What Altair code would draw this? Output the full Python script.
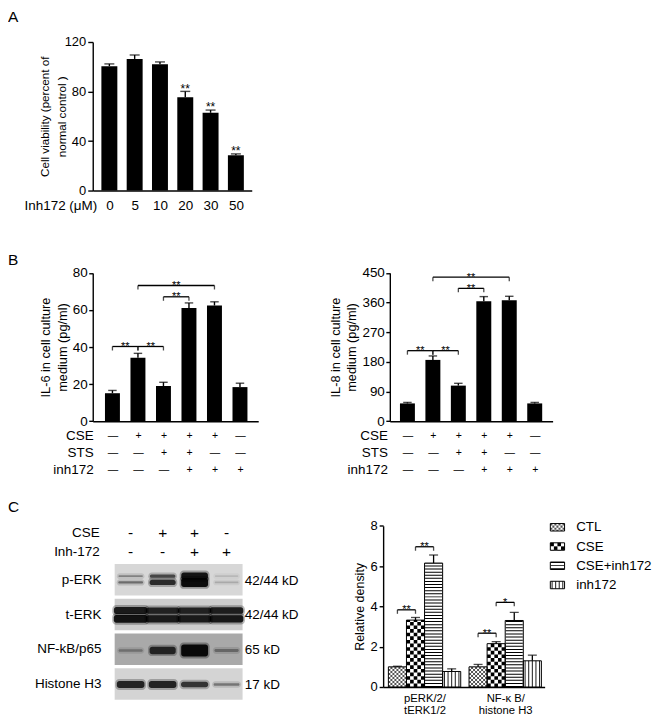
import json
import altair as alt
import pandas as pd

FONT = "Liberation Sans"

# ---------------- data ----------------
A_doses = ["0", "5", "10", "20", "30", "50"]
A_vals = [100.5, 106.3, 102.0, 75.3, 62.8, 28.5]
A_errs = [1.8, 3.2, 1.9, 4.8, 2.2, 1.1]
A_sig = ["", "", "", "**", "**", "**"]

B_rows = ["CSE", "STS", "inh172"]
B_cse = ["—", "+", "+", "+", "+", "—"]
B_sts = ["—", "—", "+", "+", "—", "—"]
B_inh = ["—", "—", "—", "+", "+", "+"]
IL6_vals = [15.1, 34.2, 19.0, 61.0, 62.4, 18.4]
IL6_errs = [1.5, 2.4, 2.0, 2.8, 2.0, 2.1]
IL8_vals = [54, 186, 108, 364, 367, 54]
IL8_errs = [3, 12, 7, 14, 12, 3]
B_br_from = [0, 1, 2, 1]
B_br_to = [1, 2, 3, 4]
B_br_lab = ["**", "**", "**", "**"]
IL6_br_h = [40.3, 40.3, 67.1, 73.2]
IL8_br_h = [214, 214, 403, 437]

C_conds = ["CTL", "CSE", "CSE+inh172", "inh172"]
C_group_lines = [["pERK/2/", "tERK1/2"], ["NF-κ B/", "histone H3"]]
C_perk_vals = [1.0, 3.32, 6.15, 0.77]
C_perk_errs = [0.03, 0.13, 0.4, 0.13]
C_nfkb_vals = [1.0, 2.15, 3.3, 1.3]
C_nfkb_errs = [0.12, 0.1, 0.4, 0.28]
C_br_group = [0, 0, 1, 1]
C_br_from = [0, 1, 0, 1]
C_br_to = [1, 2, 1, 2]
C_br_h = [3.83, 6.96, 2.67, 4.2]
C_br_lab = ["**", "**", "**", "*"]

blot_cse = ["-", "+", "+", "-"]
blot_inh = ["-", "-", "+", "+"]
blot_panels = ["p-ERK", "t-ERK", "NF-kB/p65", "Histone  H3"]
blot_kd = ["42/44 kD", "42/44 kD", "65 kD", "17 kD"]
perk_44 = [0.35, 0.65, 0.95, 0.12]
perk_42 = [0.45, 0.8, 1.0, 0.18]
terk_44 = [0.9, 0.85, 0.85, 0.88]
terk_42 = [0.95, 0.9, 0.9, 0.92]
nfkb_p65 = [0.3, 0.8, 1.0, 0.35]
histone_h3 = [0.85, 0.85, 0.75, 0.4]

# ---------------- layout / style ----------------
X0 = 93.0          # page x of first-column plot left edge
A_TOP = 40.3       # page y of panel A plot top
COL1_W = 297.7     # first column width (col 2 starts at 390.7)


def jarr(x):
    return json.dumps(x, ensure_ascii=False)


def T(**kw):
    d = dict(font=FONT, color="black")
    d.update(kw)
    return d


def X(f, s, ax=None):
    return alt.X(f"{f}:Q", scale=s, axis=ax)


def Y(f, s, ax=None):
    return alt.Y(f"{f}:Q", scale=s, axis=ax)


def letter(ch, x, y):
    return alt.Chart(pd.DataFrame({"t": [ch]})).mark_text(
        **T(fontSize=15.5, align="left", baseline="top")
    ).encode(text="t:N", x=alt.value(x), y=alt.value(y))


# ---------------- panel A ----------------
A_W, A_H = 159.5, 149.0
dfA = pd.DataFrame({"i": list(range(len(A_doses))), "v": A_vals, "e": A_errs, "sig": A_sig})
dfA["top"] = dfA["v"] + dfA["e"]
xA = alt.Scale(domain=[-0.46, 5.43], range=[0, A_W], nice=False, zero=False)
yA = alt.Scale(domain=[0, 120], range=[A_H, 0], nice=False)
axA_x = alt.Axis(values=list(range(6)), labelExpr=jarr(A_doses) + "[datum.value]",
                 ticks=False, tickSize=0, labelPadding=8, labelFontSize=13.5, labelAngle=0,
                 labelFlush=False, title="Inh172 (μM)", titleX=4, titleY=8, titleAlign="right",
                 titleBaseline="top", titleFontSize=13.5, titleAngle=0)
axA_y = alt.Axis(values=[0, 40, 80, 120], tickSize=5, labelPadding=2, labelFontSize=13,
                 title=["Cell viability (percent of", "normal control )"], titleX=-48,
                 titleY=A_H / 2, titleAngle=270, titleAlign="center", titleBaseline="middle",
                 titleLineHeight=17, titleFontSize=11.7)
chartA = alt.layer(
    alt.Chart(dfA).mark_bar(color="black", size=16).encode(x=X("i", xA, axA_x), y=Y("v", yA, axA_y)),
    alt.Chart(dfA).mark_rule(color="black", strokeWidth=1.4).encode(
        x=X("i", xA, axA_x), y=Y("v", yA, axA_y), y2="top"),
    alt.Chart(dfA).mark_tick(color="black", orient="horizontal", size=10, thickness=1.4).encode(
        x=X("i", xA, axA_x), y=Y("top", yA, axA_y)),
    alt.Chart(dfA).mark_text(**T(fontSize=12, baseline="alphabetic", dy=1.4)).encode(
        x=X("i", xA, axA_x), y=Y("top", yA, axA_y), text="sig:N"),
    letter("A", 8 - X0, 8 - A_TOP),
).properties(width=A_W, height=A_H)

blank = alt.Chart(pd.DataFrame({"t": [""]})).mark_text().encode(text="t:N").properties(width=10, height=10)

# ---------------- panel B ----------------
B_H = 231.4
B_TOP = 82.6


def make_b(vals, errs, br_h, ymax, yvals, ytitle, plot_w, view_w, xdom, ytitle_x, rowtitle_x, let=None):
    df = pd.DataFrame({"i": list(range(6)), "v": vals})
    df["top"] = [v + e for v, e in zip(vals, errs)]
    br = pd.DataFrame({"a": B_br_from, "b": B_br_to, "h": br_h, "lab": B_br_lab})
    br["mid"] = (br["a"] + br["b"]) / 2
    xs = alt.Scale(domain=xdom, range=[0, plot_w], nice=False, zero=False)
    ys = alt.Scale(domain=[0, ymax], range=[B_H, B_TOP], nice=False)
    keys = ["|".join(t) for t in zip(B_cse, B_sts, B_inh)]
    axx = alt.Axis(values=list(range(6)), labelExpr="split(" + jarr(keys) + "[datum.value], '|')",
                   ticks=False, tickSize=0, labelPadding=9, labelFontSize=10.5, labelLineHeight=17,
                   labelAngle=0, labelFlush=False, labelOverlap=False, title=B_rows,
                   titleX=rowtitle_x, titleY=7.8, titleAlign="right", titleBaseline="top",
                   titleLineHeight=17, titleFontSize=13.5, titleAngle=0)
    axy = alt.Axis(values=yvals, tickSize=4, labelPadding=1.5, labelFontSize=13.5, title=ytitle,
                   titleX=ytitle_x, titleY=(B_H + B_TOP) / 2, titleAngle=270, titleAlign="center",
                   titleBaseline="middle", titleLineHeight=16.5, titleFontSize=12.8)
    layers = [
        alt.Chart(df).mark_bar(color="black", size=15).encode(x=X("i", xs, axx), y=Y("v", ys, axy)),
        alt.Chart(df).mark_rule(color="black", strokeWidth=1.4).encode(
            x=X("i", xs, axx), y=Y("v", ys, axy), y2="top"),
        alt.Chart(df).mark_tick(color="black", orient="horizontal", size=8.5, thickness=1.4).encode(
            x=X("i", xs, axx), y=Y("top", ys, axy)),
        alt.Chart(br).mark_rule(color="black", strokeWidth=1.3).encode(
            x=X("a", xs, axx), x2="b", y=Y("h", ys, axy)),
        alt.Chart(br).mark_tick(color="black", orient="vertical", size=4, thickness=1.3, yOffset=2).encode(
            x=X("a", xs, axx), y=Y("h", ys, axy)),
        alt.Chart(br).mark_tick(color="black", orient="vertical", size=4, thickness=1.3, yOffset=2).encode(
            x=X("b", xs, axx), y=Y("h", ys, axy)),
        alt.Chart(br).mark_text(**T(fontSize=11, baseline="alphabetic", dy=3.6)).encode(
            x=X("mid", xs, axx), y=Y("h", ys, axy), text="lab:N"),
    ]
    if let is not None:
        layers.append(let)
    return alt.layer(*layers).properties(width=view_w, height=B_H)


chartBL = make_b(IL6_vals, IL6_errs, IL6_br_h, 80, [0, 20, 40, 60, 80],
                 ["IL-6 in cell culture", "medium (pg/ml)"], 166.0, COL1_W, [-0.577, 5.52],
                 -47.2, 0.5, letter("B", 8 - X0, 62.3))
chartBR = make_b(IL8_vals, IL8_errs, IL8_br_h, 450, [0, 90, 180, 270, 360, 450],
                 ["IL-8 in cell culture", "medium (pg/ml)"], 163.3, 163.3, [-0.496, 5.507],
                 -54.7, -2.4)

# ---------------- panel C: blot ----------------
BLOT_H = 277.6
PXU = 34.85
BX = alt.Scale(domain=[0, 4], range=[22, 150.3], nice=False, zero=False)
BY = alt.Scale(domain=[0, 4], range=[142.6, 142.6 + 4 * PXU], nice=False, zero=False)
panel_bg = ["#d7d7d7", "#cdcdcd", "#a9a9a9", "#d4d4d4"]
dfP = pd.DataFrame({"name": blot_panels, "kd": blot_kd, "bg": panel_bg})
dfP["y0"] = list(range(4))
dfP["y1"] = dfP["y0"] + 0.91
dfP["yl"] = dfP["y0"] + 0.46
dfP["yk"] = dfP["y0"] + 0.48
dfP["x0"] = 0.0
dfP["x1"] = 4.0

BAND_STYLE = [(perk_44, 0, 0.35, 4.0, 0.36), (perk_42, 0, 0.53, 4.5, 0.36),
              (terk_44, 1, 0.34, 4.5, 0.47), (terk_42, 1, 0.58, 4.5, 0.47),
              (nfkb_p65, 2, 0.49, 6.0, 0.36), (histone_h3, 3, 0.47, 5.0, 0.38)]
brow = []
for ints, pi, yoff, base, hw0 in BAND_STYLE:
    for li, it in enumerate(ints):
        th = base * (0.4 + 1.6 * it ** 3) / PXU
        hw = hw0 + 0.06 * it
        yc = pi + yoff
        brow.append({"x0": li + 0.5 - hw, "x1": li + 0.5 + hw, "y0": yc - th / 2, "y1": yc + th / 2,
                     "hx0": li + 0.5 - hw - 0.05, "hx1": li + 0.5 + hw + 0.05,
                     "hy0": yc - th / 2 - 2.0 / PXU, "hy1": yc + th / 2 + 2.0 / PXU,
                     "op": 0.92 * it, "hop": 0.3 * it})
dfBand = pd.DataFrame(brow)
HDR_ROWS = [-0.88, -0.35]
dfH = pd.DataFrame({"lane": [i + 0.5 for i in range(4)] * 2,
                    "row": [HDR_ROWS[0]] * 4 + [HDR_ROWS[1]] * 4, "s": blot_cse + blot_inh})
dfHL = pd.DataFrame({"t": ["CSE", "Inh-172"], "row": HDR_ROWS})

chartBlot = alt.layer(
    alt.Chart(dfP).mark_rect().encode(x=X("x0", BX), x2="x1", y=Y("y0", BY), y2="y1",
                                      fill=alt.Fill("bg:N", scale=None)),
    alt.Chart(dfBand).mark_rect(color="black", cornerRadius=4).encode(
        x=X("hx0", BX), x2="hx1", y=Y("hy0", BY), y2="hy1", opacity=alt.Opacity("hop:Q", scale=None)),
    alt.Chart(dfBand).mark_rect(color="black", cornerRadius=2.5).encode(
        x=X("x0", BX), x2="x1", y=Y("y0", BY), y2="y1", opacity=alt.Opacity("op:Q", scale=None)),
    alt.Chart(dfP).mark_text(**T(fontSize=13.5, align="right", baseline="middle")).encode(
        x=alt.value(8.7), y=Y("yl", BY), text="name:N"),
    alt.Chart(dfP).mark_text(**T(fontSize=13.5, align="left", baseline="middle")).encode(
        x=alt.value(152.5), y=Y("yk", BY), text="kd:N"),
    alt.Chart(dfH).mark_text(**T(fontSize=15.5, align="center", baseline="middle")).encode(
        x=X("lane", BX), y=Y("row", BY), text="s:N"),
    alt.Chart(dfHL).mark_text(**T(fontSize=13.5, align="right", baseline="middle")).encode(
        x=alt.value(7), y=Y("row", BY), text="t:N"),
    letter("C", 8 - X0, 78.2),
).properties(width=151, height=BLOT_H)

# ---------------- panel C: densitometry ----------------
C_H = 266.0
C_TOP = 104.3
C_GSTEP = 4.46
C_AX_OFF = 6.7
C_RANGE = [-C_AX_OFF, 155.3]
C_DOM = [-0.29, 8.64]
C_BAR_PX = (C_RANGE[1] - C_RANGE[0]) / (C_DOM[1] - C_DOM[0])

rowsC = []
for gi, (vals, errs) in enumerate([(C_perk_vals, C_perk_errs), (C_nfkb_vals, C_nfkb_errs)]):
    for ci, cond in enumerate(C_conds):
        x0 = gi * C_GSTEP + ci
        rowsC.append({"cond": cond, "x0": x0, "x1": x0 + 1, "xc": x0 + 0.5, "y0": 0.0,
                      "y1": vals[ci], "top": vals[ci] + errs[ci]})
dfC = pd.DataFrame(rowsC)
brC = pd.DataFrame({"g": C_br_group, "a": C_br_from, "b": C_br_to, "h": C_br_h, "lab": C_br_lab})
brC["xa"] = brC["g"] * C_GSTEP + brC["a"] + 0.5
brC["xb"] = brC["g"] * C_GSTEP + brC["b"] + 0.5
brC["mid"] = (brC["xa"] + brC["xb"]) / 2


def subcols(df, cond, K):
    out = []
    for r in df[df["cond"] == cond].itertuples():
        for k in range(K):
            out.append({"xs": r.x0 + (k + 0.5) * (r.x1 - r.x0) / K, "y0": r.y0, "y1": r.y1, "par": k % 2})
    return pd.DataFrame(out)


def pattern_layers(df, xs, ys, bar_px, kfine, kcoarse, kvert, ax_x=None, ax_y=None):
    layers = [alt.Chart(df).mark_rect(fill="white").encode(
        x=X("x0", xs, ax_x), x2="x1", y=Y("y0", ys, ax_y), y2="y1")]
    for cond, K, color in (("CTL", kfine, "#555555"), ("CSE", kcoarse, "black")):
        d = bar_px / K
        sc = subcols(df, cond, K)
        for par in (0, 1):
            part = sc[sc["par"] == par]
            kw = dict(color=color, strokeWidth=d, strokeDash=[d, d])
            if par:
                kw["strokeDashOffset"] = d
            layers.append(alt.Chart(part).mark_rule(**kw).encode(
                x=X("xs", xs, ax_x), y=Y("y0", ys, ax_y), y2="y1"))
    hs = df[df["cond"] == "CSE+inh172"]
    layers.append(alt.Chart(hs).mark_rule(color="black", strokeWidth=bar_px - 1, strokeDash=[1, 2.1]).encode(
        x=X("xc", xs, ax_x), y=Y("y0", ys, ax_y), y2="y1"))
    vs = subcols(df, "inh172", kvert)
    layers.append(alt.Chart(vs).mark_rule(color="black", strokeWidth=0.9).encode(
        x=X("xs", xs, ax_x), y=Y("y0", ys, ax_y), y2="y1"))
    layers.append(alt.Chart(df).mark_rect(fill="transparent", stroke="black", strokeWidth=1).encode(
        x=X("x0", xs, ax_x), x2="x1", y=Y("y0", ys, ax_y), y2="y1"))
    return layers


xC = alt.Scale(domain=C_DOM, range=C_RANGE, nice=False, zero=False)
yC = alt.Scale(domain=[0, 8], range=[C_H, C_TOP], nice=False)
axC_x = alt.Axis(values=[2.0, C_GSTEP + 2.0],
                 labelExpr="datum.value < 4 ? " + jarr(C_group_lines[0]) + " : " + jarr(C_group_lines[1]),
                 ticks=False, tickSize=0, labelPadding=5.5, labelFontSize=11.3, labelLineHeight=12.5,
                 labelAngle=0, labelFlush=False, labelOverlap=False, title=None)
axC_y = alt.Axis(values=[0, 2, 4, 6, 8], tickSize=4, labelPadding=2, labelFontSize=13,
                 offset=C_AX_OFF, title="Relative density", titleX=-24, titleY=(C_H + C_TOP) / 2,
                 titleAngle=270, titleAlign="center", titleBaseline="middle", titleFontSize=12.5)

mainC = pattern_layers(dfC, xC, yC, C_BAR_PX, 9, 5, 5, axC_x, axC_y) + [
    alt.Chart(dfC).mark_rule(color="black", strokeWidth=1.3).encode(
        x=X("xc", xC, axC_x), y=Y("y1", yC, axC_y), y2="top"),
    alt.Chart(dfC).mark_tick(color="black", orient="horizontal", size=9, thickness=1.3).encode(
        x=X("xc", xC, axC_x), y=Y("top", yC, axC_y)),
    alt.Chart(brC).mark_rule(color="black", strokeWidth=1.3).encode(
        x=X("xa", xC, axC_x), x2="xb", y=Y("h", yC, axC_y)),
    alt.Chart(brC).mark_tick(color="black", orient="vertical", size=4, thickness=1.3, yOffset=2).encode(
        x=X("xa", xC, axC_x), y=Y("h", yC, axC_y)),
    alt.Chart(brC).mark_tick(color="black", orient="vertical", size=4, thickness=1.3, yOffset=2).encode(
        x=X("xb", xC, axC_x), y=Y("h", yC, axC_y)),
    alt.Chart(brC).mark_text(**T(fontSize=11, baseline="alphabetic", dy=3.6)).encode(
        x=X("mid", xC, axC_x), y=Y("h", yC, axC_y), text="lab:N"),
]

# legend (hand-built so that it can carry the patterns)
LEG_X = [161.0, 175.3]
LEG_Y = [96.15, 173.35]
LEG_HALF = 0.194
dfL = pd.DataFrame({"cond": C_conds, "row": list(range(4))})
dfL["x0"] = 0.0
dfL["x1"] = 1.0
dfL["xc"] = 0.5
dfL["y0"] = dfL["row"] + 0.5 - LEG_HALF
dfL["y1"] = dfL["row"] + 0.5 + LEG_HALF
dfL["yt"] = dfL["row"] + 0.5
lxs = alt.Scale(domain=[0, 1], range=LEG_X, nice=False, zero=False)
lys = alt.Scale(domain=[0, 4], range=LEG_Y, nice=False, zero=False)
legC = pattern_layers(dfL, lxs, lys, LEG_X[1] - LEG_X[0], 7, 4, 4) + [
    alt.Chart(dfL).mark_text(**T(fontSize=13.4, align="left", baseline="middle")).encode(
        x=alt.value(187), y=Y("yt", lys), text="cond:N"),
]

chartC = alt.layer(alt.layer(*mainC), alt.layer(*legC)).resolve_scale(
    x="independent", y="independent").properties(width=156, height=C_H)

# ---------------- assemble ----------------
grid = alt.concat(chartA, blank, chartBL, chartBR, chartBlot, chartC,
                  columns=2, spacing=0, bounds="flush", align="each").properties(padding=0)
grid = grid.configure_axis(
    domainColor="black", domainWidth=1.4, tickColor="black", tickWidth=1.4,
    labelColor="black", titleColor="black", grid=False, labelFont=FONT, titleFont=FONT,
    titleFontWeight="normal",
).configure_view(stroke=None)

grid.save("out.html", embed_options={"renderer": "svg", "actions": False})
